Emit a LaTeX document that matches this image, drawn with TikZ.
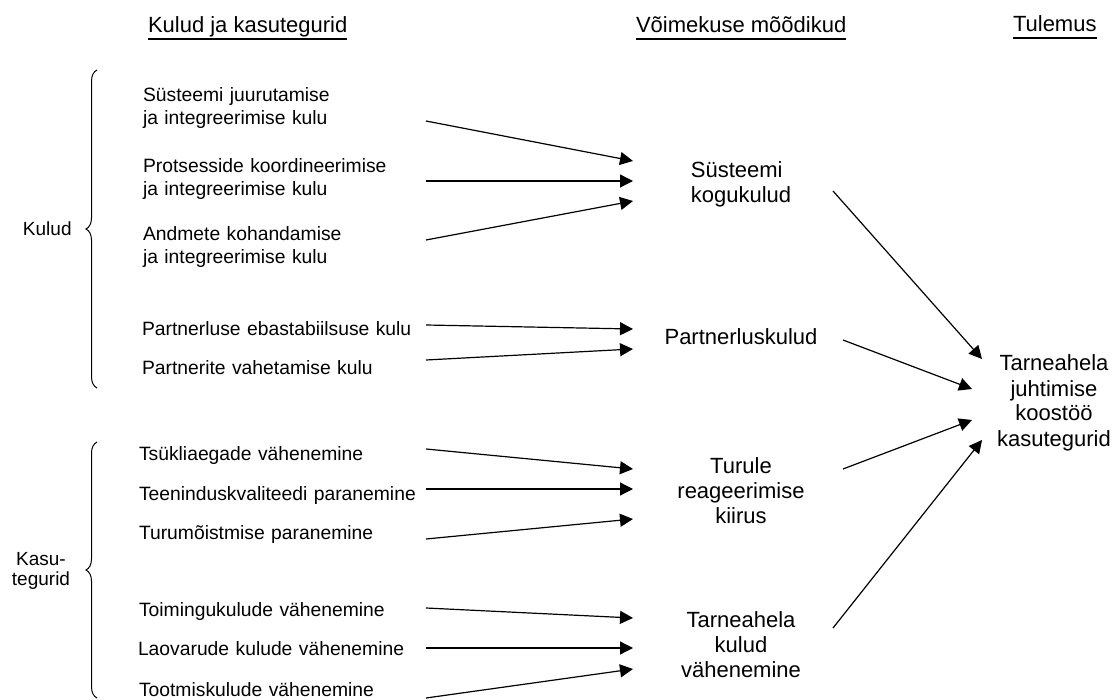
\documentclass[tikz,border=0pt]{standalone}
\usepackage{fontspec}
\setmainfont{Liberation Sans}
\usetikzlibrary{arrows.meta,decorations.pathreplacing}
\begin{document}
\begin{tikzpicture}[x=1pt,y=-1pt,
  every node/.style={inner sep=0pt, outer sep=0pt},
  head/.style={anchor=base west, font=\fontsize{22}{25}\selectfont},
  item/.style={anchor=base west, text width=#1, align=left,
               font=\fontsize{19.3}{23}\selectfont},
  item/.default=284pt,
  grp/.style={font=\fontsize{19}{20}\selectfont},
  mid/.style={anchor=base, text width=216pt, align=center,
              font=\fontsize{22}{25}\selectfont},
  res/.style={anchor=base, text width=164pt, align=center,
              font=\fontsize{22}{25}\selectfont},
  arr/.style={line width=1.2pt, -{Triangle[length=13pt,width=13pt]}},
  curly/.style={line width=1pt, decorate,
                decoration={brace, amplitude=11pt}},
  uline/.style={line width=1.2pt}]

\fill[white] (0,0) rectangle (1119,700);
\useasboundingbox (0,0) rectangle (1119,700);

% column headings
\node[head] (h1) at (148,33) {Kulud ja kasutegurid};
\node[head] (h2) at (636,33) {Võimekuse mõõdikud};
\node[head] (h3) at (1013,32) {Tulemus};
\foreach \h in {h1,h2,h3}
  \draw[uline] ([yshift=-6pt]\h.base west) -- ([yshift=-6pt]\h.base east);

% group labels and braces
\node[grp, anchor=base west] (gk) at (23,236) {Kulud};
\node[grp, anchor=base, text width=70pt, align=center] (gb) at (41,565) {Kasu-\\tegurid};
\draw[curly] (97,388) -- (97,70);
\draw[curly] (97,698) -- (97,442);

% cost and benefit items
\node[item=283pt] (l1) at (143,102) {Süsteemi juurutamise\\ja integreerimise kulu};
\node[item=283pt] (l2) at (143,173) {Protsesside koordineerimise\\ja integreerimise kulu};
\node[item=283pt] (l3) at (143,241) {Andmete kohandamise\\ja integreerimise kulu};
\node[item] (l4) at (142,336) {Partnerluse ebastabiilsuse kulu};
\node[item] (l5) at (142,375) {Partnerite vahetamise kulu};
\node[item=287pt] (l6) at (139,460) {Tsükliaegade vähenemine};
\node[item=287pt] (l7) at (139,500) {Teeninduskvaliteedi paranemine};
\node[item=287pt] (l8) at (139,539) {Turumõistmise paranemine};
\node[item=287pt] (l9) at (139,616) {Toimingukulude vähenemine};
\node[item=288pt] (l10) at (138,655) {Laovarude kulude vähenemine};
\node[item=287pt] (l11) at (139,696) {Tootmiskulude vähenemine};

% capability measures
\node[mid] (m1) at (741,178) {\begin{tabular}[t]{@{}l@{}}Süsteemi\\kogukulud\end{tabular}};
\node[mid] (m2) at (741,345) {Partnerluskulud};
\node[mid] (m3) at (741,473) {Turule\\reageerimise\\kiirus};
\node[mid] (m4) at (741,627) {Tarneahela\\kulud\\vähenemine};

% outcome
\node[res] (r) at (1054,371) {Tarneahela\\juhtimise\\koostöö\\kasutegurid};

% items -> measures
\draw[arr] (l1.east |- 0,121) -- (m1.west |- 0,161);
\draw[arr] (l2.east |- 0,181) -- (m1.west |- 0,181);
\draw[arr] (l3.east |- 0,240) -- (m1.west |- 0,201);
\draw[arr] (l4.east |- 0,325) -- (m2.west |- 0,329);
\draw[arr] (l5.east |- 0,360) -- (m2.west |- 0,349);
\draw[arr] (l6.east |- 0,449) -- (m3.west |- 0,469);
\draw[arr] (l7.east |- 0,489) -- (m3.west |- 0,489);
\draw[arr] (l8.east |- 0,539) -- (m3.west |- 0,519);
\draw[arr] (l9.east |- 0,608) -- (m4.west |- 0,618);
\draw[arr] (l10.east |- 0,648) -- (m4.west |- 0,648);
\draw[arr] (l11.east |- 0,698) -- (m4.west |- 0,669);

% measures -> outcome
\coordinate (m1o) at ([xshift=-16pt]m1.east);
\coordinate (m2o) at ([xshift=-6pt]m2.east);
\coordinate (m3o) at ([xshift=-6pt]m3.east);
\coordinate (m4o) at ([xshift=-16pt]m4.east);
\coordinate (ri) at ([xshift=10pt]r.west);
\draw[arr] (m1o |- 0,191) -- (ri |- 0,359);
\draw[arr] (m2o |- 0,340) -- (r.west |- 0,389);
\draw[arr] (m3o |- 0,469) -- (r.west |- 0,420);
\draw[arr] (m4o |- 0,628) -- (ri |- 0,440);
\end{tikzpicture}
\end{document}
